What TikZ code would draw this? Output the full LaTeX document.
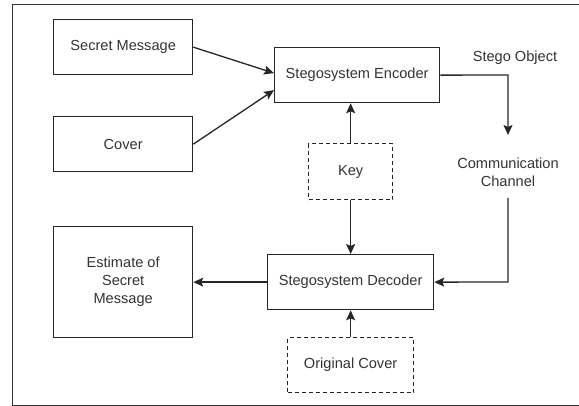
\documentclass[tikz,border=0pt]{standalone}
\usepackage{fontspec}
\setmainfont{Liberation Sans}
\usetikzlibrary{arrows.meta}
\begin{document}
\begin{tikzpicture}[x=1pt,y=-1pt,
  font=\fontsize{14.6}{18}\selectfont,
  txt/.style={text=black!80, align=center, inner sep=0pt},
  block/.style={draw=black!85, line width=1.3pt, txt, anchor=north west},
  dblock/.style={block, dashed, dash pattern=on 4pt off 3pt},
  link/.style={draw=black!85, line width=1.3pt, -{Stealth[length=10pt,width=9pt,inset=2pt]}},
  plain/.style={draw=black!85, line width=1.3pt}]
\useasboundingbox (0,0) rectangle (579,406);
% outer frame (right side runs off the page)
\draw[black!80, line width=1pt] (579,5) -- (12,5) -- (12,405) -- (579,405);

% boxes
\node[block, minimum width=139pt, minimum height=55pt] (msg) at (53,19) {Secret Message};
\node[block, minimum width=139pt, minimum height=55pt] (cov) at (53,116) {Cover};
\node[block, minimum width=165pt, minimum height=55pt] (enc) at (274,47) {Stegosystem Encoder};
\node[dblock, minimum width=84pt, minimum height=56pt] (key) at (308,143) {Key};
\node[block, minimum width=166pt, minimum height=55pt] (dec) at (267,254) {Stegosystem Decoder};
\node[block, minimum width=139pt, minimum height=111pt] (est) at (53,226) {Estimate of\\Secret\\Message};
\node[dblock, minimum width=126pt, minimum height=55pt] (orig) at (287,337) {Original Cover};

% free labels
\node[txt] (so) at (515,58) {Stego Object};
\node[txt] (ch) at (508,172) {Communication\\Channel};
\coordinate (bend1) at (508,75);
\coordinate (chin) at (508,135);
\coordinate (chout) at (508,198);
\coordinate (bend2) at (508,282);

% connectors
\draw[link] (msg.east) -- ([yshift=2pt]enc.west);
\draw[link] (cov.east) -- ([yshift=-15pt]enc.west);
\draw[link] (enc.east) -- (bend1) -- (chin);
\draw[link] (chout) -- (bend2) -- (dec.east);
\draw[link] (key.north) -- (enc.south -| key.north);
\draw[link] (key.south) -- (dec.north -| key.south);
\draw[link] (orig.north) -- (dec.south -| orig.north);
\draw[link] (dec.west) -- (est.east |- dec.west);
\end{tikzpicture}
\end{document}
